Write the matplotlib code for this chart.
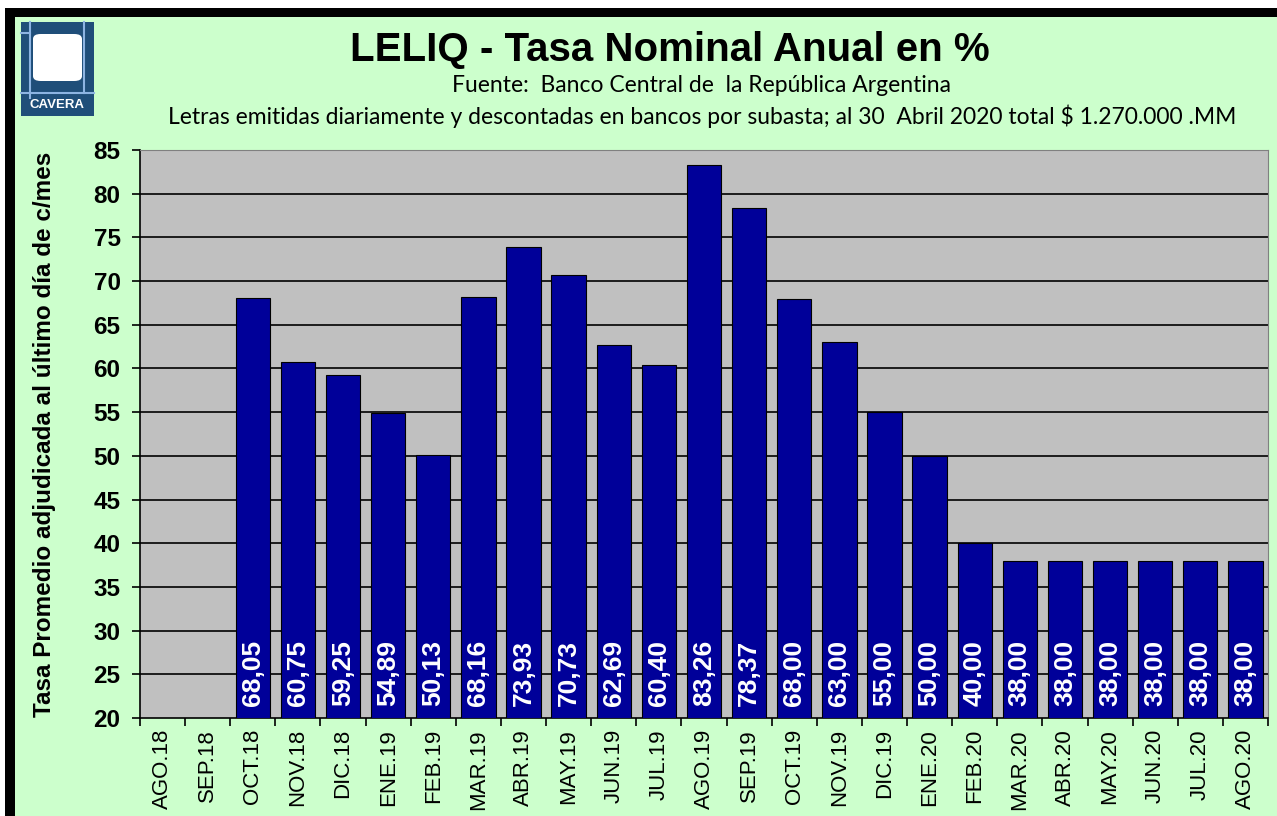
import numpy as np
import matplotlib.pyplot as plt
from matplotlib.patches import Rectangle, FancyBboxPatch
from matplotlib.lines import Line2D

# ── data ─────────────────────────────────────────────
months = ["AGO.18", "SEP.18", "OCT.18", "NOV.18", "DIC.18", "ENE.19",
          "FEB.19", "MAR.19", "ABR.19", "MAY.19", "JUN.19", "JUL.19",
          "AGO.19", "SEP.19", "OCT.19", "NOV.19", "DIC.19", "ENE.20",
          "FEB.20", "MAR.20", "ABR.20", "MAY.20", "JUN.20", "JUL.20",
          "AGO.20"]
rates = [np.nan, np.nan, 68.05, 60.75, 59.25, 54.89, 50.13, 68.16, 73.93,
         70.73, 62.69, 60.40, 83.26, 78.37, 68.00, 63.00, 55.00, 50.00,
         40.00, 38.00, 38.00, 38.00, 38.00, 38.00, 38.00]

W, H = 1277, 816
BG = "#CCFFCC"
BAR = "#000099"
PLOT_BG = "#C0C0C0"
LOGO = "#1F4E79"
LOGO_LINE = "#8DB4E2"
plt.rcParams["font.family"] = ["Liberation Sans", "DejaVu Sans"]
SUB_FONT = ["Lato", "DejaVu Sans"]


def fx(px):
    return px / W


def fy(py):
    return 1 - py / H


fig = plt.figure(figsize=(W / 100, H / 100), dpi=100)
fig.patch.set_facecolor(BG)

# black frame (top / left) with white margin outside
fig.patches.append(Rectangle((0, fy(8)), 1, 8 / H, transform=fig.transFigure,
                             facecolor="white", edgecolor="none", zorder=0))
fig.patches.append(Rectangle((0, fy(17)), 1, 9 / H, transform=fig.transFigure,
                             facecolor="black", edgecolor="none", zorder=0))
fig.patches.append(Rectangle((0, 0), fx(5), fy(8), transform=fig.transFigure,
                             facecolor="white", edgecolor="none", zorder=0))
fig.patches.append(Rectangle((fx(5), 0), fx(10), fy(8), transform=fig.transFigure,
                             facecolor="black", edgecolor="none", zorder=0))

# CAVERA logo
fig.patches.append(Rectangle((fx(21), fy(116)), fx(73), 94 / H,
                             transform=fig.transFigure, facecolor=LOGO,
                             edgecolor="none", zorder=1))
for xs, ys in [((30, 30), (22, 98)), ((84, 84), (22, 93)),
               ((21, 94), (93, 93)), ((21, 30), (33, 33))]:
    fig.lines.append(Line2D([fx(v) for v in xs], [fy(v) for v in ys],
                            transform=fig.transFigure, color=LOGO_LINE,
                            linewidth=1.5, zorder=2))
fig.patches.append(FancyBboxPatch((fx(33), fy(81)), fx(49), 47 / H,
                                  boxstyle="round,pad=0,rounding_size=0.006",
                                  transform=fig.transFigure, facecolor="white",
                                  edgecolor="none", zorder=3))
fig.text(fx(57), fy(105), "CAVERA", color="white", fontsize=9.5,
         fontweight="bold", ha="center", va="center", fontstretch="condensed")

# titles
fig.text(fx(670), fy(50), "LELIQ - Tasa Nominal Anual en %",
         fontsize=29, fontweight="bold", ha="center", va="center")
fig.text(fx(702), fy(86), "Fuente:  Banco Central de  la República Argentina",
         fontsize=16.5, family=SUB_FONT, ha="center", va="center")
fig.text(fx(702), fy(116),
         "Letras emitidas diariamente y descontadas en bancos por subasta; "
         "al 30  Abril 2020 total $ 1.270.000 .MM",
         fontsize=16.5, family=SUB_FONT, ha="center", va="center")

# axes
ax = fig.add_axes([fx(140), fy(718), 1128 / W, 568 / H])
ax.set_facecolor(PLOT_BG)
x = np.arange(len(months))
ax.bar(x, np.nan_to_num(rates, nan=0), width=0.76, bottom=0, color=BAR,
       edgecolor="black", linewidth=0.8, zorder=3)
ax.set_ylim(20, 85)
ax.set_xlim(-0.5, len(months) - 0.5)
ax.set_yticks(np.arange(20, 86, 5))
for y in np.arange(25, 85, 5):
    ax.axhline(y, color="black", linewidth=1.2, zorder=2)

for xi, v in zip(x, rates):
    if np.isnan(v):
        continue
    ax.text(xi, 21.4, f"{v:.2f}".replace(".", ","), rotation=90, color="white",
            fontsize=19, fontweight="bold", ha="center", va="bottom", zorder=4)

ax.set_xticks(np.arange(-0.5, len(months), 1))
ax.set_xticklabels([])
ax.set_xticks(x, minor=True)
ax.set_xticklabels(months, minor=True, rotation=90, fontsize=16, va="top")
ax.tick_params(axis="x", which="minor", length=0, pad=8)
ax.tick_params(axis="x", which="major", length=6, width=1.2, direction="out")
ax.tick_params(axis="y", length=6, width=1.2, labelsize=17.5, pad=8)
for lab in ax.get_yticklabels():
    lab.set_fontweight("bold")
ax.set_ylabel("Tasa Promedio adjudicada al último día de c/mes",
              fontsize=17.5, fontweight="bold")
ax.yaxis.set_label_coords((56 - 140) / 1128, 0.5)
for side in ["top", "right"]:
    ax.spines[side].set_color("#808080")
ax.spines["left"].set_linewidth(1.2)
ax.spines["bottom"].set_linewidth(1.2)

fig.savefig("out.png", dpi=100, facecolor=BG)
